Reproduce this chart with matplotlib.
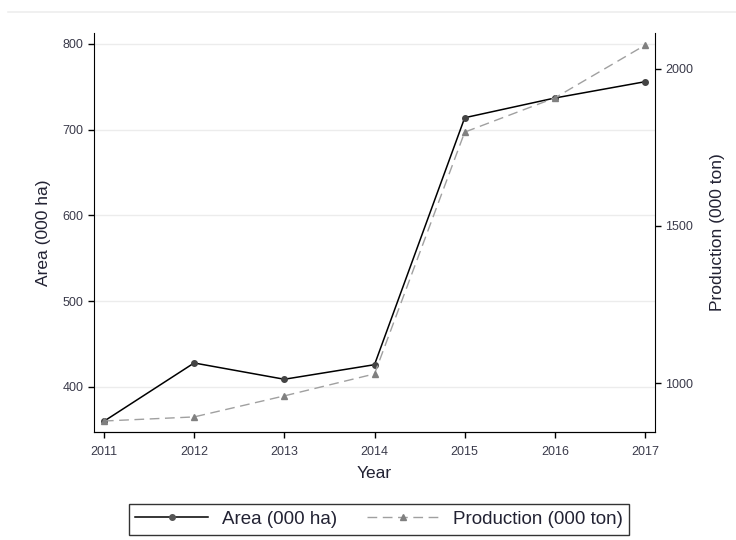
"""Area and production by year, dual axis line chart."""
import matplotlib.pyplot as plt
from matplotlib.lines import Line2D

plt.rcParams['font.family'] = ['Liberation Sans', 'DejaVu Sans']

### data
years = [2011, 2012, 2013, 2014, 2015, 2016, 2017]
area = [360, 428, 409, 426, 714, 737, 756]               # 000 ha
production = [879, 892, 959, 1029, 1799, 1908, 2076]     # 000 ton

area_ticks = [400, 500, 600, 700, 800]
prod_ticks = [1000, 1500, 2000]

tick_color = '#3a3a4a'
text_color = '#222233'
fig = plt.figure(figsize=(7.36, 5.4), dpi=100)
ax = fig.add_axes([0.1277, 0.2, 0.7623, 0.7389])
ax2 = ax.twinx()

# light line along the top of the graph region
fig.add_artist(Line2D([0.011, 1.0], [0.978, 0.978], color='#eeeeee', lw=1.2))

ax.plot(years, area, color='black', lw=1.1, marker='o', ms=4,
        mfc='#444444', mec='#444444', zorder=3)
ax2.plot(years, production, color='#a0a0a0', lw=1.0, ls=(0, (7, 4)),
         marker='^', ms=5, mfc='#808080', mec='#808080', zorder=3)

ax.set_xlim(2010.89, 2017.11)
ax.set_ylim(347.5, 812.8)
ax2.set_ylim(844, 2114.6)

ax.set_xticks(years)
ax.set_yticks(area_ticks)
ax2.set_yticks(prod_ticks)
ax.grid(axis='y', color='#ececec', lw=1)
ax.set_axisbelow(True)

for a in (ax, ax2):
    a.spines['top'].set_visible(False)
    a.tick_params(labelsize=9, labelcolor=tick_color, length=4,
                  width=1, direction='out')
ax.tick_params(axis='x', pad=6)
ax2.spines['left'].set_visible(False)
ax.spines['right'].set_visible(False)

ax.set_xlabel('Year', fontsize=12.5, color=text_color, labelpad=6)
ax.set_ylabel('Area (000 ha)', fontsize=12.5, color=text_color, labelpad=8)
ax2.set_ylabel('Production (000 ton)', fontsize=12.5, color=text_color,
               labelpad=12)

handles = [
    Line2D([], [], color='black', lw=1.1, marker='o', ms=4,
           mfc='#555555', mec='#555555'),
    Line2D([], [], color='#a0a0a0', lw=1.0, ls=(0, (7, 4)), marker='^',
           ms=5, mfc='#808080', mec='#808080'),
]
leg = fig.legend(handles, ['Area (000 ha)', 'Production (000 ton)'],
                 loc='center', bbox_to_anchor=(0.515, 0.038), ncol=2,
                 fontsize=13.5, frameon=True, fancybox=False,
                 edgecolor='black', handlelength=3.9, handletextpad=0.7,
                 columnspacing=1.6, borderpad=0.35, borderaxespad=0)
leg.get_frame().set_linewidth(1.0)
for t in leg.get_texts():
    t.set_color(text_color)

fig.savefig('out.png', dpi=100)
